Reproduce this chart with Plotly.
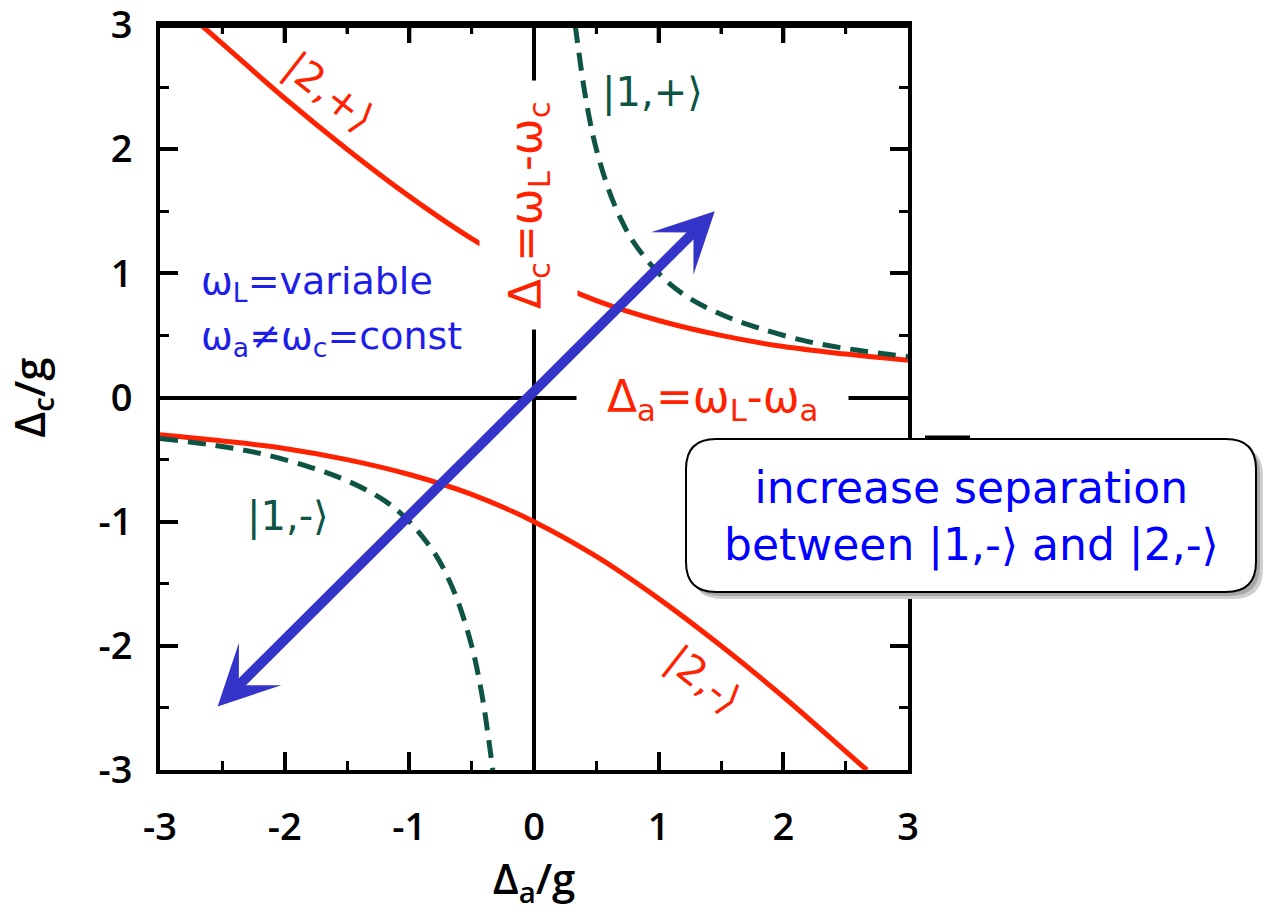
import plotly.graph_objects as go

# ---- resonance branches (units of g) ----
two_plus_x = [-2.67, -2.5, -2.0, -1.5, -1.0, -0.5, 0.0, 0.5, 1.0, 1.5, 2.0, 2.5, 3.0]
two_plus_y = [3.00, 2.85, 2.41, 2.00, 1.62, 1.28, 1.00, 0.78, 0.62, 0.50, 0.41, 0.35, 0.30]

two_minus_x = [-3.0, -2.5, -2.0, -1.5, -1.0, -0.5, 0.0, 0.5, 1.0, 1.5, 2.0, 2.5, 2.67]
two_minus_y = [-0.30, -0.35, -0.41, -0.50, -0.62, -0.78, -1.00, -1.28, -1.62, -2.00, -2.41, -2.85, -3.00]

one_plus_x = [0.33, 0.36, 0.40, 0.45, 0.50, 0.60, 0.70, 0.80, 1.00, 1.20, 1.50, 1.80, 2.20, 2.60, 3.00]
one_plus_y = [3.00, 2.78, 2.50, 2.22, 2.00, 1.67, 1.43, 1.25, 1.00, 0.83, 0.67, 0.56, 0.45, 0.38, 0.33]

one_minus_x = [-3.00, -2.60, -2.20, -1.80, -1.50, -1.20, -1.00, -0.80, -0.70, -0.60, -0.50, -0.45, -0.40, -0.36, -0.33]
one_minus_y = [-0.33, -0.38, -0.45, -0.56, -0.67, -0.83, -1.00, -1.25, -1.43, -1.67, -2.00, -2.22, -2.50, -2.78, -3.00]

# scan direction of the laser (double arrow), from tail to head
scan_start = (-2.55, -2.50)
scan_end = (1.45, 1.50)

tick_vals = [-3, -2, -1, 0, 1, 2, 3]
tick_text = ["-3", "-2", "-1", "0", "1", "2", "3"]

RED = "#ff2200"
GREEN = "#0e5444"
BLUE_TXT = "#1e1ee8"
ARROW = "#3434c8"

W, H = 1267, 912
ML, MR, MT, MB = 160, 359, 25, 142
PW, PH = W - ML - MR, H - MT - MB
MAJOR_LEN, MINOR_LEN = 18, 9


def px_x(px):
    return (px - ML) / PW


def px_y(py):
    return (H - MB - py) / PH


def rounded_box(x0, y0, x1, y1, r):
    """SVG path (paper coords) of a rounded rectangle given in pixels."""
    pts = [
        ("M", [(x0 + r, y0)]),
        ("L", [(x1 - r, y0)]),
        ("Q", [(x1, y0), (x1, y0 + r)]),
        ("L", [(x1, y1 - r)]),
        ("Q", [(x1, y1), (x1 - r, y1)]),
        ("L", [(x0 + r, y1)]),
        ("Q", [(x0, y1), (x0, y1 - r)]),
        ("L", [(x0, y0 + r)]),
        ("Q", [(x0, y0), (x0 + r, y0)]),
    ]
    parts = []
    for cmd, ps in pts:
        parts.append(cmd + " ".join(f"{px_x(a):.5f},{px_y(b):.5f}" for a, b in ps))
    return " ".join(parts) + " Z"


fig = go.Figure()

fig.add_trace(go.Scatter(x=two_plus_x, y=two_plus_y, mode="lines",
                         line=dict(color=RED, width=5, shape="spline")))
fig.add_trace(go.Scatter(x=two_minus_x, y=two_minus_y, mode="lines",
                         line=dict(color=RED, width=5, shape="spline")))
fig.add_trace(go.Scatter(x=one_plus_x, y=one_plus_y, mode="lines",
                         line=dict(color=GREEN, width=5, shape="spline", dash="18px,10px")))
fig.add_trace(go.Scatter(x=one_minus_x, y=one_minus_y, mode="lines",
                         line=dict(color=GREEN, width=5, shape="spline", dash="18px,10px")))

minor_ticks = dict(ticks="inside", dtick=0.5, tick0=0, ticklen=MINOR_LEN, tickwidth=3,
                   tickcolor="black", showgrid=False)
tick_font = dict(family="Open Sans", size=38, color="black", weight=600)
title_font = dict(family="Open Sans", size=42, color="black", weight=600)

axis_common = dict(
    range=[-3, 3],
    showline=True, linewidth=4, linecolor="black", mirror="ticks",
    ticks="inside", ticklen=MAJOR_LEN, tickwidth=4, tickcolor="black",
    tickvals=tick_vals, ticktext=tick_text,
    ticklabeloverflow="allow",
    showgrid=False,
    zeroline=True, zerolinecolor="black", zerolinewidth=4,
    minor=minor_ticks,
    tickfont=tick_font,
    fixedrange=True,
)

fig.update_layout(
    xaxis=dict(**axis_common, ticklabelstandoff=20,
               title=dict(text="Δ<sub>a</sub>/g", standoff=12, font=title_font)),
    yaxis=dict(**axis_common, ticklabelstandoff=16,
               title=dict(text="Δ<sub>c</sub>/g", standoff=44, font=title_font)),
)

annotations = []

# state labels
ket_font = dict(family="DejaVu Sans", size=40)
annotations += [
    dict(x=-1.64, y=2.46, text="|2,+⟩", textangle=38, font=dict(ket_font, color=RED)),
    dict(x=1.36, y=-2.27, text="|2,-⟩", textangle=38, font=dict(ket_font, color=RED)),
    dict(x=0.95, y=2.46, text="|1,+⟩", font=dict(ket_font, color=GREEN)),
    dict(x=-1.97, y=-0.96, text="|1,-⟩", font=dict(ket_font, color=GREEN)),
]

# detuning definitions along the axes (white backing interrupts the lines)
annotations += [
    dict(x=1.43, y=0, yshift=-2,
         text="\u00a0\u00a0Δ<sub>a</sub>=ω<sub>L</sub>-ω<sub>a</sub>\u00a0\u00a0",
         font=dict(family="DejaVu Sans", size=44, color=RED),
         bgcolor="white", borderpad=2),
    dict(x=0, y=1.55, xshift=-6, textangle=-90,
         text="Δ<sub>c</sub>=ω<sub>L</sub>-ω<sub>c</sub>",
         font=dict(family="DejaVu Sans", size=44, color=RED),
         bgcolor="white", borderpad=20),
]

# conditions
annotations += [
    dict(x=px_x(199), y=px_y(283), xref="paper", yref="paper", xanchor="left",
         text="ω<sub>L</sub>=variable",
         font=dict(family="DejaVu Sans", size=38, color=BLUE_TXT)),
    dict(x=px_x(199), y=px_y(338), xref="paper", yref="paper", xanchor="left",
         text="ω<sub>a</sub>≠ω<sub>c</sub>=const",
         font=dict(family="DejaVu Sans", size=38, color=BLUE_TXT)),
]

# double-headed scan arrow
annotations.append(dict(
    x=scan_end[0], y=scan_end[1], ax=scan_start[0], ay=scan_start[1],
    xref="x", yref="y", axref="x", ayref="y", text="",
    showarrow=True, arrowside="end+start",
    arrowhead=3, startarrowhead=3, arrowsize=1.0, startarrowsize=1.0,
    arrowwidth=10, arrowcolor=ARROW, standoff=0, startstandoff=0,
))

# callout text
annotations.append(dict(
    x=px_x(971), y=px_y(516), xref="paper", yref="paper", xanchor="center",
    text="increase separation<br>between |1,-⟩ and |2,-⟩",
    font=dict(family="DejaVu Sans", size=44, color="#0000ff"),
))

for a in annotations:
    a.setdefault("showarrow", False)
    a.setdefault("xref", "x")
    a.setdefault("yref", "y")
    a.setdefault("xanchor", "center")
    a.setdefault("yanchor", "middle")

shapes = [
    # top edge of the frame, drawn explicitly just inside the plot area
    dict(type="line", xref="paper", yref="paper", x0=-2 / PW, x1=1 + 2 / PW,
         y0=1 - 1 / PH, y1=1 - 1 / PH, line=dict(color="black", width=4), layer="above"),
    dict(type="path", path=rounded_box(692, 446, 1263, 599, 30), xref="paper", yref="paper",
         fillcolor="#cfcfcf", line=dict(width=0), layer="above"),
    dict(type="path", path=rounded_box(690, 444, 1260, 596, 30), xref="paper", yref="paper",
         fillcolor="#a8a8a8", line=dict(width=0), layer="above"),
    dict(type="path", path=rounded_box(686, 439, 1256, 592, 30), xref="paper", yref="paper",
         fillcolor="white", line=dict(color="black", width=2), layer="above"),
    dict(type="line", x0=px_x(925), x1=px_x(970), y0=px_y(437), y1=px_y(437),
         xref="paper", yref="paper", line=dict(color="black", width=3), layer="above"),
]

# ticks hanging down from the top edge, one per axis tick value
for v in tick_vals[1:-1]:
    shapes.append(dict(type="line", xref="x", yref="paper", x0=v, x1=v,
                       y0=1, y1=1 - MAJOR_LEN / PH, line=dict(color="black", width=4),
                       layer="above"))
for v in [t + 0.5 for t in tick_vals[:-1]]:
    shapes.append(dict(type="line", xref="x", yref="paper", x0=v, x1=v,
                       y0=1, y1=1 - MINOR_LEN / PH, line=dict(color="black", width=3),
                       layer="above"))

fig.update_layout(
    width=W, height=H,
    margin=dict(l=ML, r=MR, t=MT, b=MB, autoexpand=False),
    plot_bgcolor="white", paper_bgcolor="white",
    showlegend=False,
    annotations=annotations,
    shapes=shapes,
    hovermode=False,
)

fig.write_html("out.html", config={"displayModeBar": False})
